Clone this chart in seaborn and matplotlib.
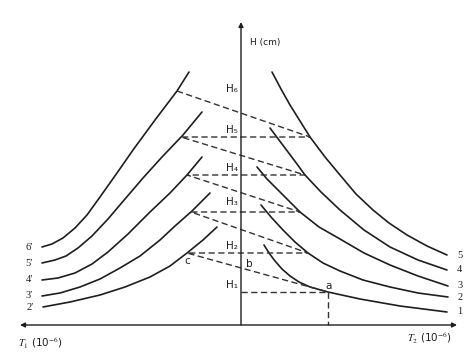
import matplotlib
matplotlib.use("Agg")
import matplotlib.pyplot as plt
import seaborn as sns
import pandas as pd

# T2 side curves (right), numbered 1-5: (T2, H) in arbitrary units
t2_curves = {
    '1': ([23, 28, 34, 41, 49, 58, 69, 87, 119, 159, 206], [80, 72, 64, 56, 49, 43, 38, 33, 26, 19, 13]),
    '2': ([20, 30, 42, 54, 67, 82, 99, 122, 149, 177, 207], [120, 108, 95, 83, 72, 62, 54, 45, 38, 32, 28]),
    '3': ([16, 26, 37, 48, 59, 78, 99, 123, 149, 177, 207], [158, 146, 135, 124, 113, 98, 86, 72, 60, 49, 39]),
    '4': ([29, 38, 47, 56, 64, 80, 99, 123, 149, 177, 206], [197, 185, 173, 161, 150, 133, 115, 95, 78, 65, 55]),
    '5': ([31, 40, 49, 59, 69, 84, 99, 115, 132, 148, 166, 186, 206], [253, 236, 220, 204, 188, 168, 150, 131, 115, 102, 90, 79, 70]),
}

# T1 side curves (left), numbered 2'-6': (T1, H)
t1_curves = {
    "2\u2032": ([198, 171, 141, 116, 91, 71, 54, 38, 24], [18, 23, 30, 38, 48, 59, 72, 85, 98]),
    "3\u2032": ([199, 181, 161, 141, 121, 101, 81, 66, 49, 31], [29, 32, 38, 46, 57, 69, 85, 99, 114, 132]),
    "4\u2032": ([199, 183, 166, 149, 133, 113, 91, 71, 54, 39], [45, 47, 52, 61, 73, 91, 113, 132, 150, 168]),
    "5\u2032": ([199, 186, 175, 163, 149, 133, 116, 98, 79, 58, 39], [62, 65, 69, 77, 89, 106, 126, 147, 168, 190, 213]),
    "6\u2032": ([199, 189, 178, 166, 154, 141, 124, 108, 86, 64, 52], [78, 81, 87, 97, 110, 128, 152, 175, 205, 234, 253]),
}

# construction: zigzag between the curve families (signed T, H)
zig_t = [-64, 69, -60, 64, -54, 59, -50, 67, -54, 87]
zig_h = [234, 188, 188, 150, 150, 113, 113, 72, 72, 33]
h_labels = ['H\u2086', 'H\u2085', 'H\u2084', 'H\u2083', 'H\u2082', 'H\u2081']
h_label_y = [236, 195, 157, 123, 79, 40]
point_a = (87, 33)

ink = '#1e1e1e'
dash_col = '#333333'
dash = (0, (4.5, 2.5))

sns.set_style('white')
plt.rcParams['font.family'] = ['DejaVu Sans']
plt.rcParams['mathtext.fontset'] = 'stix'

fig = plt.figure(figsize=(4.72, 3.54), dpi=100)
ax = fig.add_axes([0, 0, 1, 1])

for name, (t, h) in t2_curves.items():
    df = pd.DataFrame({'T': t, 'H': h})
    sns.lineplot(data=df, x='T', y='H', sort=False, estimator=None, color=ink, lw=1.2, ax=ax)
    ax.text(t[-1] + 10, h[-1], name, fontsize=7.5, family='Liberation Serif', ha='left', va='center', color=ink)

for name, (t, h) in t1_curves.items():
    df = pd.DataFrame({'T': [-v for v in t], 'H': h})
    sns.lineplot(data=df, x='T', y='H', sort=False, estimator=None, color=ink, lw=1.2, ax=ax)
    ax.text(-t[0] - 13, h[0], name, fontsize=7.5, family='Liberation Serif', ha='center', va='center', color=ink)

# dashed construction lines
ax.plot(zig_t, zig_h, ls=dash, color=dash_col, lw=1.0)
ax.plot([0, point_a[0]], [point_a[1], point_a[1]], ls=dash, color=dash_col, lw=1.0)
ax.plot([point_a[0], point_a[0]], [point_a[1], 0], ls=dash, color=dash_col, lw=1.0)

for lab, y in zip(h_labels, h_label_y):
    ax.text(-3, y, lab, fontsize=7.5, ha='right', va='center', color=ink)

ax.text(point_a[0] + 1, point_a[1] + 6, 'a', fontsize=7.5, ha='center', va='center', color=ink)
ax.text(8, 61, 'b', fontsize=7.5, ha='center', va='center', color=ink)
ax.text(-54, 64, 'c', fontsize=7.5, ha='center', va='center', color=ink)

# axes with arrows
ax.annotate('', xy=(216, 0), xytext=(-221, 0),
            arrowprops=dict(arrowstyle='<|-|>', color=ink, lw=1.0, mutation_scale=7, shrinkA=0, shrinkB=0))
ax.annotate('', xy=(0, 303), xytext=(0, 0),
            arrowprops=dict(arrowstyle='-|>', color=ink, lw=1.0, mutation_scale=7, shrinkA=0, shrinkB=0))

ax.text(9, 283, 'H (cm)', fontsize=6.5, ha='left', va='center', color=ink)
ax.text(-223, -18, r'$T_1$ (10$^{-6}$)', fontsize=7.5, ha='left', va='center', color=ink)
ax.text(166, -13, r'$T_2$ (10$^{-6}$)', fontsize=7.5, ha='left', va='center', color=ink)

ax.set_xlim(-241, 231)
ax.set_ylim(-29, 325)
ax.set_axis_off()

fig.savefig('out.png', dpi=100)
